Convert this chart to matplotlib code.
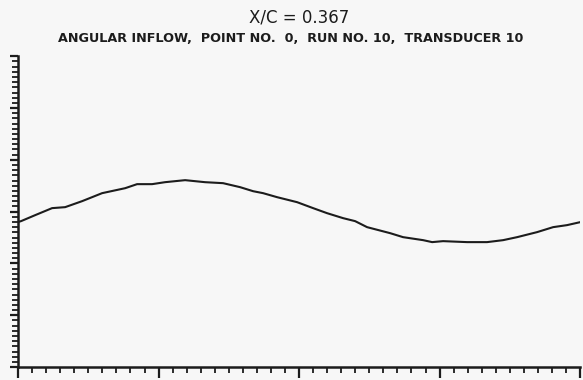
import matplotlib
matplotlib.use("Agg")
import matplotlib.pyplot as plt
from matplotlib.ticker import MultipleLocator, NullFormatter

x_pos = [0.0, 0.21, 1.21, 2.42, 3.35, 4.56, 5.98, 7.62, 8.47, 9.54, 10.46,
         11.89, 13.31, 14.59, 15.80, 16.73, 17.44, 18.43, 19.86, 21.00,
         21.99, 23.13, 23.99, 24.84, 26.48, 27.40, 28.83, 29.47, 30.25,
         31.96, 33.38, 34.52, 35.52, 36.94, 38.08, 39.07, 40.0]
inflow = [2.80, 2.817, 2.932, 3.068, 3.087, 3.203, 3.357, 3.453, 3.531,
          3.531, 3.569, 3.608, 3.569, 3.550, 3.473, 3.395, 3.357, 3.280,
          3.183, 3.068, 2.971, 2.875, 2.817, 2.701, 2.585, 2.508, 2.450,
          2.412, 2.431, 2.412, 2.412, 2.450, 2.508, 2.605, 2.701, 2.740,
          2.797]

title = "X/C = 0.367"
subtitle = "ANGULAR INFLOW,  POINT NO.  0,  RUN NO. 10,  TRANSDUCER 10"

bg = "#f7f7f7"
ink = "#1c1c1c"

fig = plt.figure(figsize=(5.83, 3.80), dpi=100, facecolor=bg)
ax = fig.add_axes([0.031, 0.034, 0.964, 0.818], facecolor=bg)

ax.plot(x_pos, inflow, color=ink, linewidth=1.5)

ax.set_xlim(0, 40)
ax.set_ylim(0, 6)

ax.xaxis.set_major_locator(MultipleLocator(10))
ax.xaxis.set_minor_locator(MultipleLocator(1))
ax.yaxis.set_major_locator(MultipleLocator(1))
ax.yaxis.set_minor_locator(MultipleLocator(0.1))
for a in (ax.xaxis, ax.yaxis):
    a.set_major_formatter(NullFormatter())
    a.set_minor_formatter(NullFormatter())

ax.tick_params(which="major", direction="out", length=8, width=1.6, color=ink)
ax.tick_params(which="minor", direction="out", length=4, width=1.3, color=ink)
ax.tick_params(axis="y", which="major", length=6)

for side in ("top", "right"):
    ax.spines[side].set_visible(False)
for side in ("left", "bottom"):
    ax.spines[side].set_linewidth(1.8)
    ax.spines[side].set_color(ink)

fig.text(0.513, 0.955, title, ha="center", va="center", fontsize=12, color=ink)
fig.text(0.498, 0.90, subtitle, ha="center", va="center", fontsize=9.2,
         fontweight="bold", color=ink)

fig.savefig("out.png", dpi=100, facecolor=bg)
